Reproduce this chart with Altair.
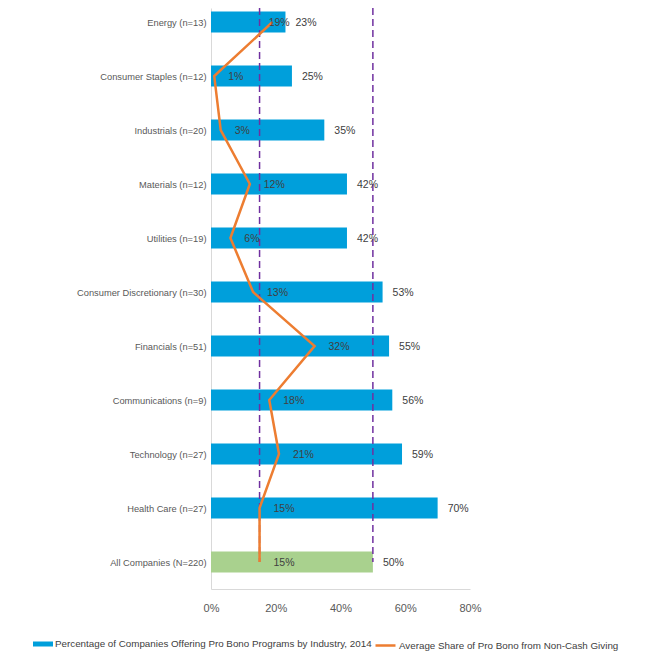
import altair as alt
import pandas as pd

categories = [
    "Energy (n=13)", "Consumer Staples (n=12)", "Industrials (n=20)",
    "Materials (n=12)", "Utilities (n=19)", "Consumer Discretionary (n=30)",
    "Financials (n=51)", "Communications (n=9)", "Technology (n=27)",
    "Health Care (n=27)", "All Companies (N=220)",
]
pct_offering = [23, 25, 35, 42, 42, 53, 55, 56, 59, 70, 50]
noncash_share = [19, 1, 3, 12, 6, 13, 32, 18, 21, 15, 15]
x_ticks = [0, 20, 40, 60, 80]
ref_lines = [15, 50]

BAR_SERIES = "Percentage of Companies Offering Pro Bono Programs by Industry, 2014"
LINE_SERIES = "Average Share of Pro Bono from Non-Cash Giving"
ALL_SERIES = "All Companies"

df = pd.DataFrame({
    "category": categories,
    "idx": list(range(len(categories))),
    "pct": pct_offering,
    "share": noncash_share,
})
df["series"] = [BAR_SERIES] * (len(categories) - 1) + [ALL_SERIES]
df["line_series"] = LINE_SERIES
rules_df = pd.DataFrame({"ref": ref_lines})

FONT = "Liberation Sans"
BLUE = "#009FDB"
GREEN = "#A9D18E"
ORANGE = "#ED7D31"
PURPLE = "#7030A0"

y_min, y_max = -0.26, 10.5
xscale = alt.Scale(domain=[0, 80], nice=False, zero=True)
yscale = alt.Scale(domain=[y_min, y_max], nice=False, zero=False, reverse=True)

label_arr = "[" + ",".join("'" + c + "'" for c in categories) + "]"
yaxis = alt.Axis(
    values=list(range(len(categories))),
    labelExpr=label_arr + "[datum.value]",
    ticks=False, grid=False, domainColor="#d9d9d9",
    labelColor="#595959", labelFontSize=9.3, labelPadding=5,
    labelFont=FONT, labelFlush=False, labelLimit=300,
)
xaxis = alt.Axis(
    values=x_ticks, labelExpr="datum.value + '%'",
    ticks=False, grid=False, domainColor="#d9d9d9",
    labelColor="#595959", labelFontSize=11, labelPadding=13,
    labelFont=FONT, labelFlush=False,
)

LEG_Y = 626
LEG_FS = 9.8

base = alt.Chart(df)

bars = base.transform_calculate(
    y0="datum.idx - 0.195", y1="datum.idx + 0.195"
).mark_bar().encode(
    x=alt.X("pct:Q", scale=xscale, axis=xaxis, title=None),
    x2=alt.datum(0),
    y=alt.Y("y0:Q", scale=yscale, axis=yaxis, title=None),
    y2="y1:Q",
    fill=alt.Fill(
        "series:N",
        scale=alt.Scale(domain=[BAR_SERIES, ALL_SERIES], range=[BLUE, GREEN]),
        legend=alt.Legend(
            title=None, orient="none", legendX=-178, legendY=LEG_Y,
            direction="horizontal", values=[BAR_SERIES],
            symbolType="M-1,-0.25H1V0.25H-1Z", symbolSize=400,
            symbolStrokeWidth=0, labelFontSize=LEG_FS, labelLimit=600,
            labelColor="#404040", labelFont=FONT, labelOffset=2,
        ),
    ),
)

rules = alt.Chart(rules_df).mark_rule(
    color=PURPLE, strokeDash=[7, 4], strokeWidth=1.5
).encode(
    x=alt.X("ref:Q", title=None),
    y=alt.datum(y_min),
    y2=alt.datum(10),
)

line = base.mark_line(strokeWidth=2.5).encode(
    x=alt.X("share:Q", title=None),
    y=alt.Y("idx:Q", title=None),
    order="idx:Q",
    stroke=alt.Stroke(
        "line_series:N",
        scale=alt.Scale(domain=[LINE_SERIES], range=[ORANGE]),
        legend=alt.Legend(
            title=None, orient="none", legendX=163, legendY=LEG_Y,
            direction="horizontal", symbolType="stroke", symbolSize=400,
            symbolStrokeWidth=2.5, labelFontSize=LEG_FS, labelLimit=600,
            labelColor="#404040", labelFont=FONT, labelOffset=2,
        ),
    ),
)

bar_labels = base.transform_calculate(lbl="datum.pct + '%'").mark_text(
    align="left", baseline="middle", dx=10, dy=1, fontSize=10.5,
    color="#404040", font=FONT,
).encode(
    x=alt.X("pct:Q", title=None),
    y=alt.Y("idx:Q", title=None),
    text="lbl:N",
)

share_labels = base.transform_calculate(
    lbl="datum.share + '%'",
    lx="min(datum.share + 4.3, datum.pct - 5.2)",
).mark_text(
    align="left", baseline="middle", dy=1, fontSize=10.5,
    color="#404040", font=FONT,
).encode(
    x=alt.X("lx:Q", title=None),
    y=alt.Y("idx:Q", title=None),
    text="lbl:N",
)

chart = alt.layer(bars, rules, line, bar_labels, share_labels).properties(
    width=259, height=581,
    autosize=alt.AutoSizeParams(type="none"),
    padding={"left": 203, "top": 0, "right": 167, "bottom": 62},
).configure(font=FONT).configure_view(stroke=None)

chart.save("out.html", embed_options={"renderer": "svg", "actions": False})
